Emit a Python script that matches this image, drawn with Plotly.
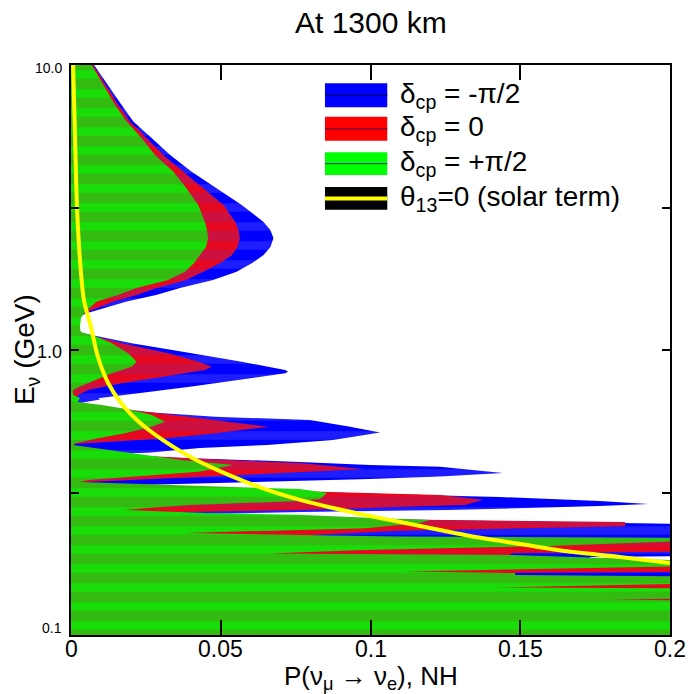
import plotly.graph_objects as go

# Right-hand (outer) edge of each delta_cp band: E (GeV) and P(nu_mu -> nu_e)
E_green = [10.0, 7.24, 6.33, 5.53, 4.83, 4.22, 3.69, 3.23, 2.82, 2.64, 2.47, 2.30, 2.15, 2.02, 1.88, 1.76, 1.65, 1.56, 1.48, 1.36,
           1.295, 1.204, 1.157, 1.120,
           1.056, 0.974, 0.910, 0.874, 0.828, 0.785, 0.744, 0.724, 0.695, 0.679, 0.657,
           0.641, 0.616, 0.591, 0.560, 0.538, 0.510, 0.490, 0.4705, 0.464,
           0.434, 0.411, 0.395, 0.374, 0.359, 0.350, 0.344,
           0.333, 0.325, 0.315, 0.300, 0.295, 0.286, 0.279, 0.2745, 0.268, 0.264, 0.257, 0.253,
           0.247, 0.237, 0.228, 0.224, 0.2216, 0.219,
           0.2146, 0.2053, 0.1987, 0.1932, 0.1909, 0.1870, 0.1818,
           0.1761, 0.1739, 0.1670, 0.1650, 0.1624, 0.1605,
           0.1516, 0.1468, 0.1456,
           0.1343, 0.1332, 0.1322,
           0.1]
P_green = [0.0069, 0.0147, 0.0186, 0.0236, 0.0280, 0.0342, 0.0386, 0.0425, 0.0447, 0.0454, 0.0458, 0.0451, 0.0431, 0.0411, 0.0381, 0.0324, 0.0219, 0.0157, 0.0086, 0.0047,
           0.0033, 0.0030, 0.0032, 0.0080,
           0.0136, 0.0191, 0.0219, 0.0203, 0.0136, 0.0080, 0.0030, 0.0007, 0.0007, 0.0030, 0.0023,
           0.0103, 0.0203, 0.0269, 0.0314, 0.0269, 0.0180, 0.0091, 0.0013, 0.0007,
           0.0203, 0.0370, 0.0542, 0.0425, 0.0203, 0.0058, 0.0030,
           0.0431, 0.0765, 0.0855, 0.0831, 0.0758, 0.0397, 0.0257, 0.0180, 0.0447, 0.0758, 0.1032, 0.1199,
           0.1165, 0.0982, 0.0381, 0.0815, 0.1092, 0.210,
           0.210, 0.1593, 0.0982, 0.0658, 0.1476, 0.1733, 0.210,
           0.210, 0.2003, 0.1115, 0.1483, 0.1483, 0.210,
           0.210, 0.1406, 0.210,
           0.210, 0.1806, 0.210,
           0.210]

E_red = [10.0, 7.24, 6.33, 5.53, 4.83, 4.22, 3.69, 3.23, 2.82, 2.64, 2.47, 2.30, 2.15, 2.02, 1.88, 1.76, 1.65, 1.56, 1.48, 1.36, 1.316, 1.224,
         1.147, 1.056, 0.974, 0.910, 0.874, 0.851, 0.806, 0.764, 0.724, 0.695, 0.679, 0.657,
         0.636, 0.616, 0.600, 0.568, 0.538, 0.510, 0.490, 0.477, 0.468, 0.4605,
         0.428, 0.415, 0.401, 0.382, 0.373, 0.361, 0.353, 0.344, 0.339,
         0.333, 0.325, 0.3175, 0.310, 0.298, 0.286, 0.279, 0.2745, 0.269, 0.264, 0.257, 0.254, 0.249, 0.241, 0.235, 0.232, 0.225, 0.2207, 0.217,
         0.1963, 0.194, 0.1833, 0.1818, 0.1664, 0.1653, 0.1611, 0.1598, 0.1]
P_red = [0.0074, 0.0158, 0.0197, 0.0253, 0.0308, 0.0375, 0.0442, 0.0509, 0.0548, 0.0559, 0.0564, 0.0556, 0.0537, 0.0498, 0.0442, 0.0384, 0.0286, 0.0220, 0.0141, 0.0058, 0.0023, 0.0013,
         0.0036, 0.0169, 0.0325, 0.0425, 0.0470, 0.0447, 0.0314, 0.0169, 0.0058, 0.0024, 0.0013, 0.0017,
         0.0097, 0.0203, 0.0303, 0.0481, 0.0659, 0.0481, 0.0314, 0.0147, 0.0013, 0.0007,
         0.0197, 0.0431, 0.0765, 0.0975, 0.0765, 0.0431, 0.0257, 0.0057, 0.0047,
         0.0264, 0.0598, 0.0865, 0.1232, 0.1376, 0.1316, 0.0982, 0.0758, 0.0264, 0.0097, 0.0765, 0.1192, 0.1850, 0.1850, 0.1265, 0.1092, 0.0815, 0.0765, 0.210,
         0.210, 0.1476, 0.1432, 0.210, 0.210, 0.1483, 0.1483, 0.210, 0.210]

E_blue = [10.0, 7.24, 6.33, 5.53, 4.83, 4.22, 3.69, 3.23, 2.82, 2.64, 2.47, 2.30, 2.15, 2.02, 1.88, 1.76, 1.65, 1.56, 1.48, 1.345, 1.295, 1.195,
          1.147, 1.056, 0.974, 0.910, 0.851, 0.839, 0.828, 0.785, 0.744, 0.705, 0.677, 0.671, 0.652,
          0.636, 0.607, 0.583, 0.568, 0.538, 0.513, 0.483, 0.464, 0.453, 0.436, 0.432,
          0.421, 0.416, 0.405, 0.395, 0.389, 0.370, 0.360, 0.353, 0.348, 0.341, 0.336, 0.333,
          0.323, 0.312, 0.305, 0.295, 0.288, 0.2835, 0.2745, 0.270, 0.266, 0.2615, 0.258, 0.253, 0.248, 0.245,
          0.1893, 0.1878, 0.184, 0.1826, 0.1]
P_blue = [0.0077, 0.0169, 0.0208, 0.0270, 0.0331, 0.0403, 0.0487, 0.0570, 0.0642, 0.0665, 0.0676, 0.0666, 0.0642, 0.0605, 0.0553, 0.0474, 0.0364, 0.0284, 0.0186, 0.0052, 0.0017, 0.0017,
          0.0036, 0.0203, 0.0403, 0.0570, 0.0715, 0.0725, 0.0715, 0.0559, 0.0403, 0.0225, 0.0091, 0.0097, 0.0030,
          0.0097, 0.0236, 0.0481, 0.0798, 0.0932, 0.1032, 0.0875, 0.0654, 0.0431, 0.0258, 0.0080,
          0.0264, 0.0431, 0.0765, 0.0998, 0.1232, 0.1442, 0.1232, 0.0998, 0.0765, 0.0454, 0.0247, 0.0097,
          0.0531, 0.1099, 0.1432, 0.1766, 0.1927, 0.1766, 0.1259, 0.0765, 0.0447, 0.0598, 0.0765, 0.1199, 0.1706, 0.210,
          0.210, 0.1733, 0.1733, 0.210, 0.210]

# theta13 = 0 (solar term)
E_solar = [10.0, 5.91, 3.18, 2.07, 1.50, 1.20, 0.945, 0.766, 0.652, 0.568, 0.524, 0.479, 0.418, 0.364, 0.325,
           0.298, 0.279, 0.2615, 0.249, 0.2335, 0.2225, 0.2086, 0.197, 0.1878, 0.1789]
P_solar = [0.0007, 0.0013, 0.0020, 0.0030, 0.0043, 0.0067, 0.0090, 0.0124, 0.0167, 0.0220, 0.0260, 0.0312, 0.0405, 0.0528, 0.0648,
           0.0765, 0.0875, 0.0998, 0.1099, 0.1232, 0.1332, 0.1499, 0.1649, 0.1833, 0.2000]

x_ticks = [0, 0.05, 0.1, 0.15, 0.2]
x_ticklabels = ["0", "0.05", "0.1", "0.15", "0.2"]
y_ticks = [0.1, 0.3162, 1.0, 3.162, 10.0]
y_ticklabels = {0.1: "0.1", 1.0: "1.0", 10.0: "10.0"}
legend_labels = ["δ<sub>cp</sub> = -π/2", "δ<sub>cp</sub> = 0", "δ<sub>cp</sub> = +π/2", "θ<sub>13</sub>=0 (solar term)"]

FONT = "Liberation Sans, Arial, Helvetica, sans-serif"

fig = go.Figure()

def band(E, P, base, stripe, name):
    xs = [0.0] + P + [0.0]
    ys = [E[0]] + E + [E[-1]]
    fig.add_trace(go.Scatter(
        x=xs, y=ys, mode="lines", fill="toself", line=dict(width=0),
        fillcolor=base,
        fillpattern=dict(shape="-", size=19, solidity=0.45, bgcolor=base, fgcolor=stripe),
        name=name, showlegend=False, hoverinfo="skip"))

band(E_blue, P_blue, "#0000FF", "#3A3AFF", "blue")
band(E_red, P_red, "#CC1040", "#FF0000", "red")
band(E_green, P_green, "#33BB11", "#00FF00", "green")

fig.add_trace(go.Scatter(x=P_solar, y=E_solar, mode="lines", line=dict(color="#FFFF00", width=4, shape="spline", smoothing=0.8),
                         showlegend=False, hoverinfo="skip"))

# Legend drawn as shapes + text
shapes = []
leg_rows = [(0.968, 0.926, "#0000FF", "#000088", 1.5),
            (0.909, 0.867, "#FF0000", "#880033", 1.5),
            (0.847, 0.807, "#00FF00", "#003388", 1.0),
            (0.786, 0.746, "#000000", "#FFFF00", 4.0)]
x0, x1 = 0.424, 0.528
for (ytop, ybot, fc, lc, lw) in leg_rows:
    shapes.append(dict(type="rect", xref="paper", yref="paper", x0=x0, x1=x1, y0=ybot, y1=ytop,
                       fillcolor=fc, line=dict(width=0), layer="above"))
    ym = (ytop + ybot) / 2
    shapes.append(dict(type="line", xref="paper", yref="paper", x0=x0, x1=x1, y0=ym, y1=ym,
                       line=dict(color=lc, width=lw), layer="above"))

annotations = []
for (ytop, ybot, fc, lc, lw), lab in zip(leg_rows, legend_labels):
    annotations.append(dict(text=lab, xref="paper", yref="paper", x=0.546, y=(ytop + ybot) / 2,
                            xanchor="left", yanchor="middle", showarrow=False,
                            font=dict(size=28, color="black", family=FONT)))

# x tick labels
for v, t in zip(x_ticks, x_ticklabels):
    annotations.append(dict(text=t, xref="x", yref="paper", x=v, y=-0.024, xanchor="center", yanchor="middle",
                            showarrow=False, font=dict(size=23, color="black", family=FONT)))

# y tick labels (different sizes as in the original)
y_lab_pos = {0.1: (0.012, 14), 1.0: (0.497, 18), 10.0: (0.995, 14)}
for v, t in y_ticklabels.items():
    ypos, fs = y_lab_pos[v]
    annotations.append(dict(text=t, xref="paper", yref="paper", x=-0.012, y=ypos, xanchor="right", yanchor="middle",
                            showarrow=False, font=dict(size=fs, color="black", family=FONT)))

annotations += [
    dict(text="At 1300 km", xref="paper", yref="paper", x=0.5, y=1.075, xanchor="center", yanchor="middle",
         showarrow=False, font=dict(size=30, color="black", family=FONT)),
    dict(text="P(ν<sub>μ</sub> → ν<sub>e</sub>), NH", xref="paper", yref="paper", x=0.5, y=-0.074,
         xanchor="center", yanchor="middle", showarrow=False, font=dict(size=26, color="black", family=FONT)),
    dict(text="E<sub>ν</sub> (GeV)", xref="paper", yref="paper", x=-0.075, y=0.5, textangle=-90,
         xanchor="center", yanchor="middle", showarrow=False, font=dict(size=28, color="black", family=FONT)),
]

fig.update_layout(
    width=697, height=694,
    margin=dict(l=71, r=27, t=65, b=59),
    paper_bgcolor="white", plot_bgcolor="white",
    showlegend=False,
    shapes=shapes, annotations=annotations,
    xaxis=dict(range=[0, 0.2], tickvals=x_ticks, ticks="inside", ticklen=15, tickwidth=2,
               tickcolor="black", showline=True, linecolor="black", linewidth=2, mirror="ticks",
               showgrid=False, zeroline=False, showticklabels=False),
    yaxis=dict(type="log", range=[-1, 1], tickvals=y_ticks, ticks="inside", ticklen=8, tickwidth=2,
               tickcolor="black", showline=True, linecolor="black", linewidth=2, mirror="ticks",
               showgrid=False, zeroline=False, showticklabels=False),
)

fig.write_html("out.html")
